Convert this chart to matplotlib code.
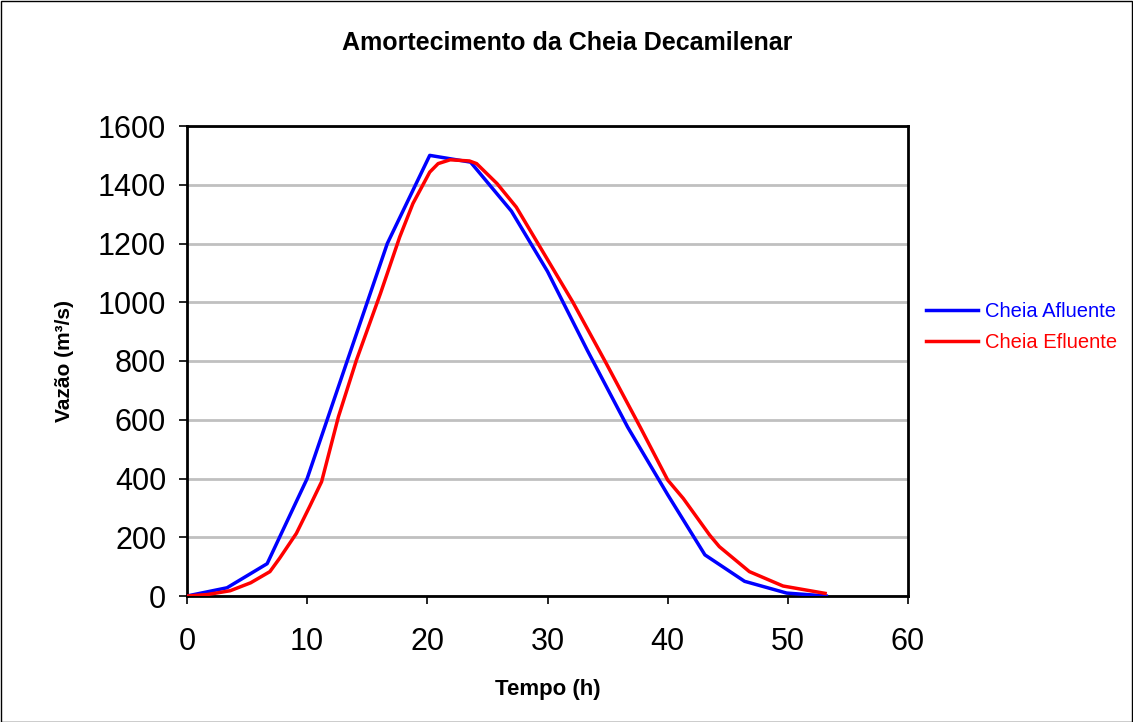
import matplotlib
matplotlib.use("Agg")
import matplotlib.pyplot as plt
from matplotlib.patches import Rectangle

plt.rcParams['font.family'] = ['Liberation Sans', 'DejaVu Sans']

title = "Amortecimento da Cheia Decamilenar"
xlabel = "Tempo (h)"
ylabel = "Vazão (m³/s)"

t_afl = [0, 3.33, 6.67, 10, 13.33, 16.67, 20.2, 23.6, 27.0, 30.0, 33.33, 36.67, 40.0, 43.1, 46.4, 49.9, 53.2]
q_afl = [0, 28, 110, 400, 800, 1200, 1500, 1477, 1310, 1105, 835, 575, 345, 140, 50, 10, 0]

t_efl = [0, 1.7, 3.6, 5.3, 6.9, 7.7, 9.1, 10.2, 11.2, 12.6, 14.1, 16.1, 17.7, 18.8, 20.2, 20.9,
         21.9, 23.5, 24.1, 25.8, 27.4, 29.7, 32.1, 34.9, 37.7, 40.0, 41.3, 43.5, 44.3, 46.8, 49.6, 53.1]
q_efl = [0, 5, 18, 45, 83, 128, 213, 304, 389, 610, 803, 1030, 1222, 1336, 1443, 1472,
         1485, 1481, 1472, 1404, 1324, 1166, 1001, 791, 576, 395, 332, 207, 168, 83, 34, 9]

labels = ["Cheia Afluente", "Cheia Efluente"]
colors = ["#0000ff", "#ff0000"]

W, H = 1133, 722
fig = plt.figure(figsize=(W / 100, H / 100), dpi=100)
ax = fig.add_axes([187 / W, 1 - 596 / H, (908 - 187) / W, (596 - 126) / H])

l1, = ax.plot(t_afl, q_afl, color=colors[0], lw=2.5, label=labels[0], zorder=3)
l2, = ax.plot(t_efl, q_efl, color=colors[1], lw=2.5, label=labels[1], zorder=3)

ax.set_xlim(0, 60)
ax.set_ylim(0, 1600)
ax.set_xticks(range(0, 61, 10))
ax.set_yticks(range(0, 1601, 200))
ax.yaxis.grid(True, color="#c0c0c0", lw=2)
ax.set_axisbelow(True)
for s in ax.spines.values():
    s.set_linewidth(2)
    s.set_color("black")
ax.tick_params(axis='both', direction='out', length=6, width=1.2, labelsize=22, colors='black')
ax.tick_params(axis='y', pad=9)
ax.tick_params(axis='x', pad=16)

ax.set_xlabel(xlabel, fontsize=16, fontweight='bold', labelpad=16)
ax.set_ylabel(ylabel, fontsize=15, fontweight='bold', labelpad=17)
fig.text(567 / W, 1 - 43 / H, title, fontsize=18, fontweight='bold', ha='center', va='center')

leg = fig.legend(handles=[l1, l2], labels=labels, loc='center left',
                 bbox_to_anchor=(908 / W, 1 - 327 / H), frameon=False,
                 fontsize=14.5, handlelength=2.6, handletextpad=0.3, labelspacing=0.6)
for txt, c in zip(leg.get_texts(), colors):
    txt.set_color(c)

fig.add_artist(Rectangle((0.5 / W, 0.5 / H), 1 - 1.5 / W, 1 - 1.5 / H, transform=fig.transFigure,
                         fill=False, edgecolor='black', lw=1))

fig.savefig("out.png", dpi=100)
